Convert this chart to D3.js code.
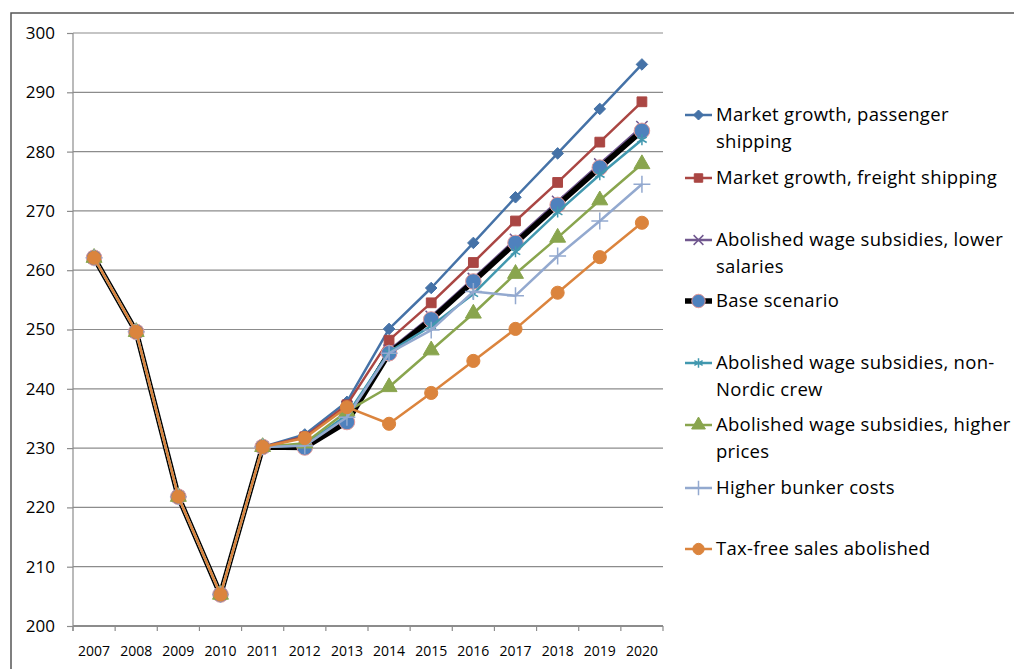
<!DOCTYPE html>
<html>
<head>
<meta charset="utf-8">
<script src="https://cdn.jsdelivr.net/npm/d3@7"></script>
<style>
  html, body { margin: 0; padding: 0; background: #fff; }
  svg { display: block; }
  text { font-family: "Open Sans", "Noto Sans", sans-serif; fill: #000; }
</style>
</head>
<body>
<svg id="chart" width="1014" height="669"></svg>
<script>
const years = ["2007","2008","2009","2010","2011","2012","2013","2014","2015","2016","2017","2018","2019","2020"];
const yTicks = [200, 210, 220, 230, 240, 250, 260, 270, 280, 290, 300];

const passenger  = [262.1, 249.6, 221.8, 205.3, 230.2, 232.3, 237.8, 250.1, 257.0, 264.6, 272.3, 279.7, 287.2, 294.7];
const freight    = [262.1, 249.6, 221.8, 205.3, 230.2, 231.9, 237.3, 248.2, 254.5, 261.3, 268.3, 274.8, 281.6, 288.4];
const lowerSal   = [262.1, 249.6, 221.8, 205.3, 230.2, 230.3, 234.8, 246.5, 252.2, 258.6, 265.2, 271.6, 277.9, 284.2];
const baseScen   = [262.1, 249.6, 221.8, 205.3, 230.2, 230.1, 234.4, 246.0, 251.7, 258.1, 264.6, 271.0, 277.3, 283.5];
const nonNordic  = [262.1, 249.6, 221.8, 205.3, 230.2, 230.5, 235.6, 246.2, 250.6, 256.0, 263.1, 269.8, 276.1, 282.0];
const higherPr   = [262.1, 249.6, 221.8, 205.3, 230.2, 230.8, 236.2, 240.3, 246.5, 252.7, 259.4, 265.5, 271.8, 277.9];
const bunker     = [262.1, 249.6, 221.8, 205.3, 230.2, 230.4, 235.2, 246.0, 249.9, 256.4, 255.7, 262.4, 268.3, 274.5];
const taxFree    = [262.1, 249.6, 221.8, 205.3, 230.2, 231.7, 236.9, 234.1, 239.3, 244.7, 250.1, 256.2, 262.2, 268.0];

const seriesNames = [
  ["Market growth, passenger", "shipping"],
  ["Market growth, freight shipping"],
  ["Abolished wage subsidies, lower", "salaries"],
  ["Base scenario"],
  ["Abolished wage subsidies, non-", "Nordic crew"],
  ["Abolished wage subsidies, higher", "prices"],
  ["Higher bunker costs"],
  ["Tax-free sales abolished"]
];
const seriesValues = [passenger, freight, lowerSal, baseScen, nonNordic, higherPr, bunker, taxFree];

const styles = [
  {color: "#4572A7", width: 2.5, marker: "diamond", mfill: "#4572A7", mstroke: "#4572A7", size: 85},
  {color: "#AA4643", width: 2.5, marker: "square", mfill: "#AA4643", mstroke: "#AA4643", size: 95},
  {color: "#71588F", width: 2.5, marker: "x", mfill: "none", mstroke: "#71588F", size: 85},
  {color: "#000000", width: 5.5, marker: "circle", mfill: "#4F81BD", mstroke: "#E39A9A", size: 190},
  {color: "#4198AF", width: 2.5, marker: "star", mfill: "none", mstroke: "#4198AF", size: 85},
  {color: "#89A54E", width: 2.5, marker: "triangle", mfill: "#89A54E", mstroke: "#89A54E", size: 110},
  {color: "#93A9CF", width: 2.5, marker: "plus", mfill: "none", mstroke: "#93A9CF", size: 95},
  {color: "#DB843D", width: 2.5, marker: "circle", mfill: "#DB843D", mstroke: "#DB843D", size: 135}
];
const legendY = [115, 178, 240, 301, 363, 425, 488, 549];

const svg = d3.select("#chart");
const plotLeft = 73, plotRight = 663, plotTop = 33, plotBottom = 626;

svg.append("rect").attr("x", 11).attr("y", 13).attr("width", 1020).attr("height", 680)
  .attr("fill", "none").attr("stroke", "#555").attr("stroke-width", 1.5);

const x = d3.scaleBand().domain(years).range([plotLeft, plotRight]).padding(0);
const y = d3.scaleLinear().domain([200, 300]).range([plotBottom, plotTop]);

// gridlines
svg.append("g").selectAll("line").data(yTicks.filter(t => t > 200)).join("line")
  .attr("x1", plotLeft).attr("x2", plotRight).attr("y1", d => y(d)).attr("y2", d => y(d))
  .attr("stroke", "#8c8c8c").attr("stroke-width", 1.2);

// y axis
const yAxis = d3.axisLeft(y).tickValues(yTicks).tickSize(6).tickPadding(12).tickFormat(d3.format("d"));
const gy = svg.append("g").attr("transform", `translate(${plotLeft},0)`).call(yAxis);
gy.select(".domain").attr("stroke", "#8c8c8c").attr("stroke-width", 1.2).attr("d", `M0,${plotTop}V${plotBottom + 5}`);
gy.selectAll(".tick line").attr("stroke", "#8c8c8c").attr("stroke-width", 1.2);
gy.selectAll("text").style("font-size", "17px").attr("fill", "#000");

// x axis
const xAxis = d3.axisBottom(x).tickSize(0).tickPadding(20);
const gx = svg.append("g").attr("transform", `translate(0,${plotBottom})`).call(xAxis);
gx.select(".domain").attr("stroke", "#8c8c8c").attr("stroke-width", 2).attr("d", `M${plotLeft},0H${plotRight}`);
gx.selectAll("text").style("font-size", "14px").attr("fill", "#000");
gx.selectAll(".sep").data(years.concat(["end"])).join("line").attr("class", "sep")
  .attr("x1", (d, i) => plotLeft + i * x.bandwidth()).attr("x2", (d, i) => plotLeft + i * x.bandwidth())
  .attr("y1", 0).attr("y2", 5).attr("stroke", "#8c8c8c").attr("stroke-width", 1.2);

const symbolFor = m => ({
  diamond: d3.symbolDiamond2 || d3.symbolDiamond, square: d3.symbolSquare, x: d3.symbolX, circle: d3.symbolCircle,
  star: d3.symbolAsterisk, triangle: d3.symbolTriangle, plus: d3.symbolPlus
}[m]);

const line = d3.line().x((d, i) => x(years[i]) + x.bandwidth() / 2).y(d => y(d));

seriesValues.forEach((vals, si) => {
  const st = styles[si];
  const g = svg.append("g");
  g.append("path").datum(vals).attr("d", line).attr("fill", "none")
    .attr("stroke", st.color).attr("stroke-width", st.width).attr("stroke-linejoin", "round");
  const sym = d3.symbol().type(symbolFor(st.marker)).size(st.size);
  g.selectAll("path.m").data(vals).join("path").attr("class", "m")
    .attr("transform", (d, i) => `translate(${x(years[i]) + x.bandwidth() / 2},${y(d)})`)
    .attr("d", sym)
    .attr("fill", st.mfill).attr("stroke", st.mstroke)
    .attr("stroke-width", st.mfill === "none" ? 1.5 : 1);
});

// legend
const lg = svg.append("g");
seriesNames.forEach((lines, si) => {
  const st = styles[si];
  const ly = legendY[si];
  lg.append("line").attr("x1", 685).attr("x2", 712).attr("y1", ly).attr("y2", ly)
    .attr("stroke", st.color).attr("stroke-width", st.width);
  const sym = d3.symbol().type(symbolFor(st.marker)).size(st.size * 0.75);
  lg.append("path").attr("transform", `translate(698.5,${ly})`).attr("d", sym)
    .attr("fill", st.mfill).attr("stroke", st.mstroke).attr("stroke-width", st.mfill === "none" ? 1.5 : 1);
  lines.forEach((t, li) => {
    lg.append("text").attr("x", 716).attr("y", ly + li * 27).attr("dy", "0.35em")
      .style("font-size", "18.5px").style("letter-spacing", "0.3px").text(t);
  });
});
</script>
</body>
</html>
